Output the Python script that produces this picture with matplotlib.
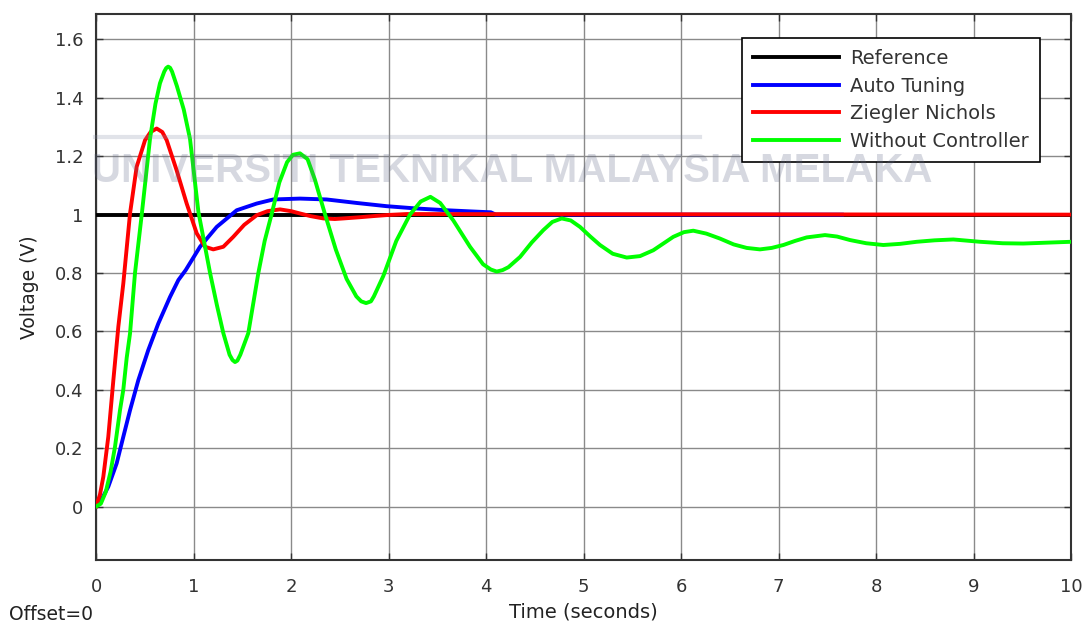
import matplotlib
matplotlib.use('Agg')
import matplotlib.pyplot as plt

plt.rcParams['font.family'] = ['DejaVu Sans']

# reference step
t_ref = [0, 10]
v_ref = [1, 1]

# auto tuning
t_auto = [0, 0.05, 0.126, 0.212, 0.28, 0.349, 0.434, 0.536, 0.639, 0.759, 0.845, 0.92,
          1.067, 1.238, 1.443, 1.648, 1.818, 2.092, 2.366, 2.674, 2.98, 3.289, 3.597,
          3.85, 4.05, 4.1, 7.65]
v_auto = [0, 0.02, 0.068, 0.148, 0.239, 0.33, 0.433, 0.536, 0.627, 0.718, 0.776, 0.81,
          0.89, 0.958, 1.015, 1.038, 1.052, 1.055, 1.052, 1.04, 1.029, 1.021, 1.015,
          1.011, 1.008, 1.0, 1.0]

# ziegler nichols
t_zn = [0, 0.04, 0.075, 0.126, 0.178, 0.229, 0.28, 0.349, 0.417, 0.503, 0.56, 0.622,
        0.68, 0.725, 0.827, 0.93, 1.033, 1.118, 1.203, 1.306, 1.408, 1.52, 1.648, 1.76,
        1.887, 2.0, 2.092, 2.2, 2.332, 2.45, 2.537, 2.7, 2.844, 3.0, 3.186, 10]
v_zn = [0, 0.04, 0.102, 0.239, 0.433, 0.616, 0.764, 1.004, 1.164, 1.255, 1.283, 1.295,
        1.283, 1.255, 1.152, 1.038, 0.936, 0.89, 0.881, 0.89, 0.924, 0.965, 0.998, 1.012,
        1.018, 1.012, 1.004, 0.995, 0.987, 0.985, 0.987, 0.991, 0.995, 0.999, 1.002, 1.0]

# without controller
t_open = [0, 0.05, 0.10, 0.15, 0.195, 0.246, 0.28, 0.315, 0.349, 0.4, 0.469, 0.554, 0.61,
          0.656, 0.70, 0.72, 0.74, 0.76, 0.78, 0.83, 0.90, 0.964, 1.05, 1.17, 1.24, 1.306,
          1.37, 1.40, 1.426, 1.45, 1.48, 1.562, 1.665, 1.73, 1.80, 1.88, 1.96, 2.02, 2.092,
          2.17, 2.245, 2.35, 2.46, 2.57, 2.67, 2.72, 2.77, 2.82, 2.85, 2.947, 3.08, 3.22,
          3.33, 3.43, 3.53, 3.665, 3.836, 3.97, 4.05, 4.11, 4.17, 4.23, 4.349, 4.47, 4.588,
          4.68, 4.776, 4.87, 4.964, 5.07, 5.169, 5.3, 5.443, 5.58, 5.716, 5.921, 6.03, 6.126,
          6.26, 6.4, 6.54, 6.674, 6.81, 6.93, 7.05, 7.17, 7.289, 7.477, 7.6, 7.733, 7.9,
          8.075, 8.25, 8.417, 8.6, 8.793, 9.067, 9.3, 9.51, 9.75, 10.0]
v_open = [0, 0.01, 0.05, 0.12, 0.205, 0.33, 0.40, 0.51, 0.593, 0.80, 1.0, 1.26, 1.38,
          1.45, 1.49, 1.502, 1.507, 1.503, 1.49, 1.44, 1.36, 1.26, 1.01, 0.80, 0.69, 0.594,
          0.52, 0.502, 0.495, 0.50, 0.52, 0.594, 0.80, 0.91, 1.0, 1.11, 1.18, 1.205, 1.21,
          1.19, 1.12, 1.0, 0.88, 0.78, 0.72, 0.703, 0.697, 0.703, 0.72, 0.79, 0.91, 1.0,
          1.045, 1.061, 1.04, 0.98, 0.89, 0.83, 0.812, 0.805, 0.81, 0.82, 0.855, 0.905, 0.947,
          0.975, 0.987, 0.98, 0.958, 0.925, 0.896, 0.866, 0.853, 0.858, 0.878, 0.924, 0.94,
          0.945, 0.935, 0.918, 0.898, 0.886, 0.881, 0.886, 0.896, 0.91, 0.922, 0.930, 0.925,
          0.913, 0.902, 0.896, 0.9, 0.907, 0.912, 0.915, 0.907, 0.902, 0.901, 0.904, 0.907]

y_ticks = [0, 0.2, 0.4, 0.6, 0.8, 1, 1.2, 1.4, 1.6]
y_labels = ['0', '0.2', '0.4', '0.6', '0.8', '1', '1.2', '1.4', '1.6']
x_ticks = list(range(0, 11))

fig = plt.figure(figsize=(10.88, 6.25), dpi=100)
ax = fig.add_axes([96/1088, 1-560/625, 975/1088, (560-13.5)/625])

ax.plot(t_ref, v_ref, color='black', lw=2.8, label='Reference', zorder=3)
ax.plot(t_auto, v_auto, color='#0000ff', lw=2.8, label='Auto Tuning', zorder=4)
ax.plot(t_zn, v_zn, color='#ff0000', lw=2.8, label='Ziegler Nichols', zorder=5)
ax.plot(t_open, v_open, color='#00ff00', lw=2.8, label='Without Controller', zorder=6)

ax.set_xlim(0, 10)
ax.set_ylim(-0.183, 1.689)
ax.set_xticks(x_ticks)
ax.set_yticks(y_ticks)
ax.set_yticklabels(y_labels)
ax.grid(True, color='#8a8a8a', lw=1.0)
ax.set_axisbelow(True)
ax.tick_params(direction='in', length=5, width=1, top=True, right=True,
               labelsize=13, labelcolor='#333333', color='#333333')
ax.tick_params(axis='x', pad=13)
ax.tick_params(axis='y', pad=9)
for s in ax.spines.values():
    s.set_color('#333333')
    s.set_linewidth(1.5)

ax.set_xlabel('Time (seconds)', fontsize=14, color='#222222')
ax.xaxis.set_label_coords(0.5, -0.078)
ax.set_ylabel('Voltage (V)', fontsize=13.5, color='#222222')
ax.yaxis.set_label_coords(-0.058, 0.5)

leg = ax.legend(loc='upper right', bbox_to_anchor=(0.968, 0.955), fontsize=14,
                frameon=True, fancybox=False, edgecolor='black', framealpha=1,
                handlelength=4.4, borderpad=0.55, labelspacing=0.45, handletextpad=0.6,
                borderaxespad=0)
leg.get_frame().set_linewidth(1.2)
for txt in leg.get_texts():
    txt.set_color('#333333')

fig.text(9/1088, 1-614/625, 'Offset=0', fontsize=13.5, color='#222222', va='center')

# faint watermark of the thesis logo
fig.text(512/1088, 1-171/625, 'UNIVERSITI TEKNIKAL MALAYSIA MELAKA', fontsize=29,
         family='Liberation Sans', fontweight='bold', color='#5d6585', alpha=0.25,
         ha='center', va='center', zorder=20)
fig.add_artist(plt.Line2D([95/1088, 700/1088], [1-137/625, 1-137/625], color='#8890a8',
                          alpha=0.25, lw=3, zorder=20))

fig.savefig('out.png', dpi=100)
